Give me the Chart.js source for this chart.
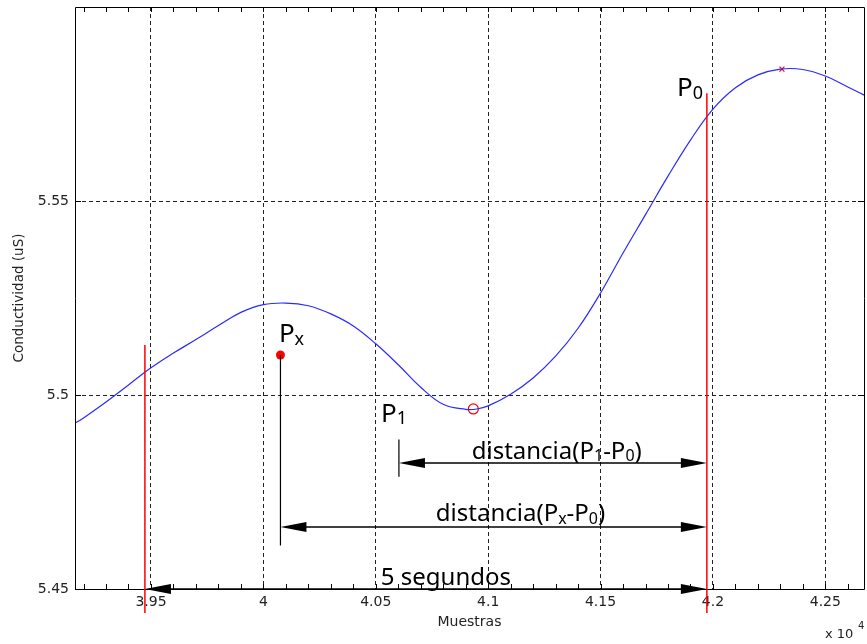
<!DOCTYPE html>
<html>
<head>
<meta charset="utf-8">
<script src="https://cdn.jsdelivr.net/npm/chart.js@4.4.1/dist/chart.umd.min.js"></script>
<style>
  html, body { margin: 0; padding: 0; background: #fff; }
  #wrap { width: 867px; height: 644px; position: relative; }
</style>
</head>
<body>
<div id="wrap"><canvas id="chart"></canvas></div>
<script>
  const muestras = [39150, 39200, 39300, 39400, 39500, 39600, 39700, 39800, 39900, 40000,
    40100, 40200, 40300, 40400, 40500, 40600, 40700, 40800, 40900, 40950,
    41000, 41100, 41200, 41300, 41400, 41500, 41600, 41700, 41800, 41900,
    42000, 42100, 42200, 42300, 42400, 42500, 42600, 42700];
  const conductividad = [5.4923, 5.4941, 5.4982, 5.5026, 5.5070, 5.5108, 5.5143, 5.5179, 5.5213, 5.5233,
    5.5237, 5.5230, 5.5209, 5.5178, 5.5132, 5.5078, 5.5020, 5.4976, 5.4963, 5.4964,
    5.4972, 5.5002, 5.5044, 5.5100, 5.5172, 5.5263, 5.5366, 5.5465, 5.5564, 5.5657,
    5.5737, 5.5792, 5.5825, 5.5840, 5.5839, 5.5822, 5.5794, 5.5765];

  const xTicks = [39500, 40000, 40500, 41000, 41500, 42000, 42500];
  const xTickLabels = ["3.95", "4", "4.05", "4.1", "4.15", "4.2", "4.25"];
  const yTicks = [5.45, 5.5, 5.55];
  const yTickLabels = ["5.45", "5.5", "5.55"];
  const xRange = [39162, 42672];
  const yRange = [5.45, 5.6];
  const xMinorStep = 100;

  // marcadores
  const puntoMaximo = [42307, 5.5840];
  const puntoMinimo = [40934, 5.4964];
  const puntoPx = [40076, 5.5103];

  // lineas rojas (x, y superior); llegan hasta yBajoEje
  const lineasRojas = [[39473, 5.5129], [41973, 5.5778]];
  const yBajoEje = 5.4438;
  const tallo = [40076, 5.5103, 5.4612];     // Px hacia abajo
  const marcaP1 = [40603, 5.4885, 5.4789];

  // flechas: desde, hasta, y ; texto: centro x, base y
  const flechas = [
    [40603, 41973, 5.4825],
    [40076, 41973, 5.4660],
    [39473, 41973, 5.4500]
  ];
  const textosFlechas = ["distancia(P_1-P_0)", "distancia(P_x-P_0)", "5 segundos"];
  const textosX = [41305, 41144, 40812];
  const textosY = [5.4836, 5.4674, 5.4511];

  const etiquetas = ["P_0", "P_x", "P_1"];
  const etiquetasX = [41840, 40069, 40523];
  const etiquetasY = [5.5770, 5.5136, 5.4931];

  const FONT = "'Noto Sans', 'DejaVu Sans', sans-serif";

  function drawRich(ctx, text, x, y, size, align) {
    const parts = [];
    for (let i = 0; i < text.length; i++) {
      if (text[i] === "_" && i + 1 < text.length) { parts.push([text[i + 1], true]); i++; }
      else if (parts.length && !parts[parts.length - 1][1]) parts[parts.length - 1][0] += text[i];
      else parts.push([text[i], false]);
    }
    const subSize = Math.round(size * 0.68);
    let width = 0;
    parts.forEach(p => {
      ctx.font = `${p[1] ? subSize : size}px ${FONT}`;
      p.push(ctx.measureText(p[0]).width);
      width += p[2];
    });
    let cx = align === "center" ? x - width / 2 : x;
    ctx.textAlign = "left";
    ctx.textBaseline = "alphabetic";
    parts.forEach(p => {
      ctx.font = `${p[1] ? subSize : size}px ${FONT}`;
      ctx.fillText(p[0], cx, p[1] ? y + size * 0.1 : y);
      cx += p[2];
    });
  }

  function arrowHead(ctx, tipX, tipY, dir) {
    const len = 26, half = 5;
    ctx.beginPath();
    ctx.moveTo(tipX, tipY);
    ctx.lineTo(tipX - dir * len, tipY - half);
    ctx.lineTo(tipX - dir * len, tipY + half);
    ctx.closePath();
    ctx.fill();
  }

  const frame = {
    id: "frame",
    afterDatasetsDraw(chart) {
      const { ctx, chartArea: a, scales: { x, y } } = chart;
      const px = v => x.getPixelForValue(v);
      const py = v => y.getPixelForValue(v);
      ctx.save();

      // caja y marcas
      ctx.strokeStyle = "#000";
      ctx.lineWidth = 1;
      ctx.beginPath();
      ctx.rect(Math.round(a.left) + 0.5, Math.round(a.top) + 0.5, Math.round(a.right - a.left), Math.round(a.bottom - a.top));
      ctx.stroke();
      ctx.beginPath();
      for (let v = Math.ceil(xRange[0] / xMinorStep) * xMinorStep; v <= xRange[1]; v += xMinorStep) {
        const X = Math.round(px(v)) + 0.5;
        ctx.moveTo(X, a.bottom); ctx.lineTo(X, a.bottom - 5);
        ctx.moveTo(X, a.top); ctx.lineTo(X, a.top + 5);
      }
      yTicks.forEach(v => {
        const Y = Math.round(py(v)) + 0.5;
        ctx.moveTo(a.left, Y); ctx.lineTo(a.left + 6, Y);
        ctx.moveTo(a.right, Y); ctx.lineTo(a.right - 6, Y);
      });
      ctx.stroke();

      // lineas rojas
      ctx.strokeStyle = "#ff0000";
      ctx.lineWidth = 1.5;
      ctx.beginPath();
      lineasRojas.forEach(l => {
        ctx.moveTo(px(l[0]), py(l[1]));
        ctx.lineTo(px(l[0]), py(yBajoEje));
      });
      ctx.stroke();

      // tallo de Px y marca de P1
      ctx.strokeStyle = "#000";
      ctx.lineWidth = 1.2;
      ctx.beginPath();
      ctx.moveTo(px(tallo[0]), py(tallo[1])); ctx.lineTo(px(tallo[0]), py(tallo[2]));
      ctx.moveTo(px(marcaP1[0]), py(marcaP1[1])); ctx.lineTo(px(marcaP1[0]), py(marcaP1[2]));
      ctx.stroke();

      // flechas
      ctx.fillStyle = "#000";
      flechas.forEach(f => {
        const x0 = px(f[0]), x1 = px(f[1]), Y = py(f[2]);
        ctx.lineWidth = 1.5;
        ctx.beginPath(); ctx.moveTo(x0 + 10, Y); ctx.lineTo(x1 - 10, Y); ctx.stroke();
        arrowHead(ctx, x0, Y, -1);
        arrowHead(ctx, x1, Y, 1);
      });
      textosFlechas.forEach((t, i) => drawRich(ctx, t, px(textosX[i]), py(textosY[i]), 24, "center"));
      etiquetas.forEach((t, i) => drawRich(ctx, t, px(etiquetasX[i]), py(etiquetasY[i]), 26, "left"));

      // multiplicador del eje x
      ctx.fillStyle = "#222";
      ctx.font = `13px 'DejaVu Sans', sans-serif`;
      ctx.textAlign = "left";
      ctx.textBaseline = "alphabetic";
      ctx.fillText("x 10", a.right - 39, 638);
      ctx.font = `10px 'DejaVu Sans', sans-serif`;
      ctx.fillText("4", a.right - 6, 629);
      ctx.restore();
    }
  };

  const tickFont = { family: "'DejaVu Sans', sans-serif", size: 14 };
  const noPadding = scale => {
    scale.paddingLeft = 0; scale.paddingRight = 0;
    scale.paddingTop = 0; scale.paddingBottom = 0;
  };

  new Chart(document.getElementById("chart"), {
    type: "scatter",
    data: {
      datasets: [
        {
          data: muestras.map((m, i) => ({ x: m, y: conductividad[i] })),
          showLine: true,
          borderColor: "#2a2aff",
          borderWidth: 1.2,
          pointRadius: 0,
          tension: 0.4
        },
        {
          data: [{ x: puntoMinimo[0], y: puntoMinimo[1] }],
          pointStyle: "circle", pointRadius: 5,
          borderColor: "#ff0000", backgroundColor: "rgba(0,0,0,0)", borderWidth: 1.2
        },
        {
          data: [{ x: puntoMaximo[0], y: puntoMaximo[1] }],
          pointStyle: "crossRot", pointRadius: 3.5,
          borderColor: "#ff0000", borderWidth: 1.2
        },
        {
          data: [{ x: puntoPx[0], y: puntoPx[1] }],
          pointStyle: "circle", pointRadius: 4.5,
          borderColor: "#ff0000", backgroundColor: "#ff0000", borderWidth: 0
        }
      ]
    },
    options: {
      responsive: true,
      maintainAspectRatio: false,
      animation: false,
      layout: { autoPadding: false, padding: { top: 7, right: 3, left: 0, bottom: 0 } },
      plugins: { legend: { display: false }, tooltip: { enabled: false } },
      scales: {
        x: {
          type: "linear",
          min: xRange[0],
          max: xRange[1],
          afterBuildTicks: scale => { scale.ticks = xTicks.map(v => ({ value: v })); },
          afterFit: scale => { scale.height = 55; noPadding(scale); },
          ticks: { callback: (v, i) => xTickLabels[i], font: tickFont, color: "#222", padding: 5, maxRotation: 0, autoSkip: false },
          grid: { color: "#222", lineWidth: 1, drawTicks: false },
          border: { display: false, dash: [4, 3] },
          title: { display: true, text: "Muestras", color: "#222", font: { family: "'DejaVu Sans', sans-serif", size: 14 }, padding: { top: 0, bottom: 13 } }
        },
        y: {
          type: "linear",
          min: yRange[0],
          max: yRange[1],
          afterBuildTicks: scale => { scale.ticks = yTicks.map(v => ({ value: v })); },
          afterFit: scale => { scale.width = 75; noPadding(scale); },
          ticks: { callback: (v, i) => yTickLabels[i], font: tickFont, color: "#222", padding: 6 },
          grid: { color: "#222", lineWidth: 1, drawTicks: false },
          border: { display: false, dash: [4, 3] },
          title: { display: true, text: "Conductividad (uS)", color: "#222", font: { family: "'DejaVu Sans', sans-serif", size: 13.5 }, padding: { top: 11, bottom: 0 } }
        }
      }
    },
    plugins: [frame]
  });
</script>
</body>
</html>
